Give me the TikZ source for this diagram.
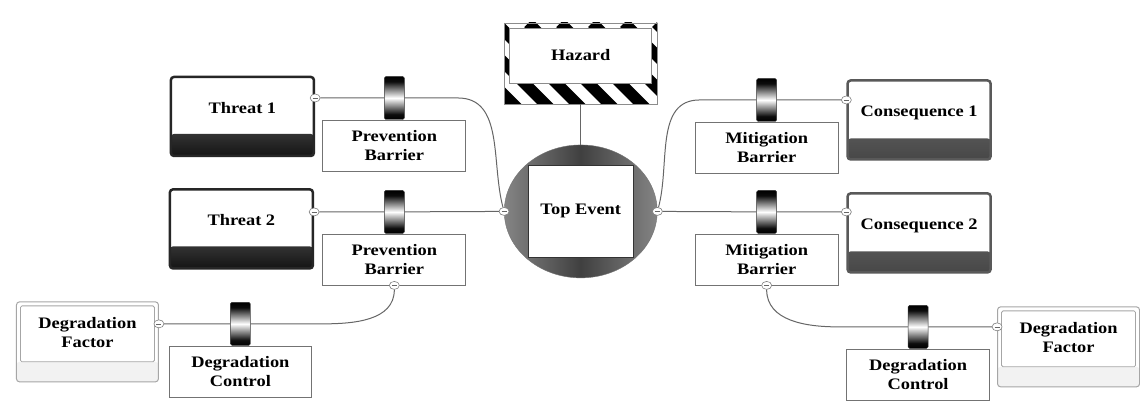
\documentclass[tikz,border=0pt]{standalone}
\usepackage{fontspec}
\setmainfont{Liberation Serif}[FakeStretch=1.15]
\usepackage{tikz}
\usetikzlibrary{positioning,shapes.geometric,calc}
\pgfdeclareverticalshading{barrier shading}{100bp}{color(0bp)=(black); color(25bp)=(black); color(31bp)=(black!95); color(50bp)=(white); color(69bp)=(black!95); color(75bp)=(black); color(100bp)=(black)}
\tikzset{
	bowtie/.style={
		x=1pt,y=-1pt,
		node distance=0pt,
		font=\fontsize{16}{19}\selectfont\bfseries,
		connector/.style={draw=black!60,line width=1pt}
	},
	threat box/.style={
		rectangle,
		rounded corners=3pt,
		draw=black!85,
		line width=2.5pt,
		fill=white,
		minimum width=143pt,
		minimum height=79pt,
		text height=11pt,text depth=17pt, % lift the text above the band
		path picture={
			\shade[top color=black!50,bottom color=black!92]
				(path picture bounding box.south west) rectangle ([yshift=22pt]path picture bounding box.south east);
		}
	},
	consequence box/.style={
		threat box,
		draw=black!65,
		path picture={
			\shade[top color=black!55,bottom color=black!72]
				(path picture bounding box.south west) rectangle ([yshift=21pt]path picture bounding box.south east);
		}
	},
	factor box/.style={
		rectangle,
		rounded corners=3pt,
		draw=black!35,
		line width=1pt,
		fill=white,
		minimum width=142pt,
		minimum height=80pt,
		align=center,
		text height=31pt,text depth=19pt, % centre the text in the upper box
		path picture={
			\fill[black!5] (path picture bounding box.south west) rectangle ([yshift=20pt]path picture bounding box.south east);
			\draw[black!35,line width=0.8pt,rounded corners=1.5pt]
				([xshift=4pt,yshift=-4pt]path picture bounding box.north west) rectangle ([xshift=-4pt,yshift=20pt]path picture bounding box.south east);
		}
	},
	hazard box/.style={
		rectangle,
		draw=black!45,
		line width=0.6pt,
		minimum width=153pt,
		minimum height=81pt,
		text height=11pt,text depth=17pt,
		path picture={
			\fill[white] (path picture bounding box.south west) rectangle (path picture bounding box.north east);
			\foreach \s in {-3,...,6}
				\draw[draw=black,line width=11.5pt] ([xshift=\s*32pt-40pt]path picture bounding box.north west) -- ++(90pt,-90pt);
			\fill[white,draw=black!45,line width=0.6pt]
				([xshift=5pt,yshift=-5pt]path picture bounding box.north west) rectangle ([xshift=-6pt,yshift=21pt]path picture bounding box.south east);
		}
	},
	top event/.style={
		ellipse,
		minimum width=153pt,
		minimum height=133pt,
		left color=black!48,right color=black!48,middle color=black!75,
		draw=black!55,
		path picture={
			\fill[white,draw=black!80,line width=0.8pt]
				([xshift=-52.5pt,yshift=-46.5pt]path picture bounding box.center) rectangle ([xshift=52.5pt,yshift=46.5pt]path picture bounding box.center);
		}
	},
	barrier/.style={
		rectangle,
		rounded corners=1.5pt,
		minimum width=20pt,
		minimum height=43pt,
		inner sep=0pt,
		shading=barrier shading,
		draw=black!80,
		line width=0.4pt
	},
	barrier box/.style={
		rectangle,
		draw=black!55,
		line width=0.8pt,
		fill=white,
		minimum width=143pt,
		minimum height=51pt,
		inner sep=1pt,
		align=center
	},
	fold sign/.style={
		ellipse,
		draw=black!50,
		fill=white,
		line width=0.6pt,
		minimum width=10pt,
		minimum height=8pt,
		inner sep=0pt,
		path picture={
			\draw[black!60,line width=0.6pt] ([xshift=-2.5pt]path picture bounding box.center) -- ([xshift=2.5pt]path picture bounding box.center);
		}
	}
}
\begin{document}
\begin{tikzpicture}[bowtie]
	\path[fill=white] (0,0) rectangle (1140,405);

	% centre
	\node[hazard box] (hazard) at (581,63.5) {Hazard};
	\node[top event] (top) at (581,211.5) {Top Event};

	% causes
	\node[threat box] (threat1) at (242.5,116.5) {Threat 1};
	\node[threat box] (threat2) at (241.5,229) {Threat 2};
	\node[barrier] (prev1) at (394.5,98) {};
	\node[barrier box,below=of prev1] (prev1 box) {Prevention\\Barrier};
	\node[barrier] (prev2) at (394.5,212) {};
	\node[barrier box,below=of prev2] (prev2 box) {Prevention\\Barrier};
	\node[factor box] (factor1) at (87.5,342) {Degradation\\Factor};
	\node[barrier] (ctrl1) at (240.5,324) {};
	\node[barrier box,below=of ctrl1] (ctrl1 box) {Degradation\\Control};

	% consequences
	\node[consequence box] (cons1) at (919.5,120) {Consequence 1};
	\node[consequence box] (cons2) at (919.5,233) {Consequence 2};
	\node[barrier] (mit1) at (767,100) {};
	\node[barrier box,below=of mit1] (mit1 box) {Mitigation\\Barrier};
	\node[barrier] (mit2) at (767,212) {};
	\node[barrier box,below=of mit2] (mit2 box) {Mitigation\\Barrier};
	\node[factor box] (factor2) at (1069,347) {Degradation\\Factor};
	\node[barrier] (ctrl2) at (918.5,327) {};
	\node[barrier box,below=of ctrl2] (ctrl2 box) {Degradation\\Control};

	% fold signs
	\node[fold sign] (threat1 fold) at (threat1.east |- prev1) {};
	\node[fold sign] (threat2 fold) at (threat2.east |- prev2) {};
	\node[fold sign] (top west fold) at (top.west) {};
	\node[fold sign] (top east fold) at (top.east) {};
	\node[fold sign] (cons1 fold) at (cons1.west |- mit1) {};
	\node[fold sign] (cons2 fold) at (cons2.west |- mit2) {};
	\node[fold sign] (prev2 fold) at (prev2 box.south) {};
	\node[fold sign] (mit2 fold) at (mit2 box.south) {};
	\node[fold sign] (factor1 fold) at (factor1.east |- ctrl1) {};
	\node[fold sign] (factor2 fold) at (factor2.west |- ctrl2) {};

	\coordinate (bend1) at (458,98);
	\coordinate (bend2) at (700,100);
	\coordinate (bend3) at (322,324);
	\coordinate (bend4) at (838,327);

	\draw[connector] (hazard) -- (top);
	\draw[connector] (threat1 fold) -- (prev1) -- (bend1) to[out=0,in=105] (top west fold);
	\draw[connector] (threat2 fold) -- (prev2) -- (top west fold);
	\draw[connector] (top east fold) to[out=75,in=180] (bend2) -- (mit1) -- (cons1 fold);
	\draw[connector] (top east fold) -- (mit2) -- (cons2 fold);
	\draw[connector] (factor1 fold) -- (ctrl1) -- (bend3) to[out=0,in=-90] (prev2 fold);
	\draw[connector] (mit2 fold) to[out=-90,in=180] (bend4) -- (ctrl2) -- (factor2 fold);
\end{tikzpicture}
\end{document}
